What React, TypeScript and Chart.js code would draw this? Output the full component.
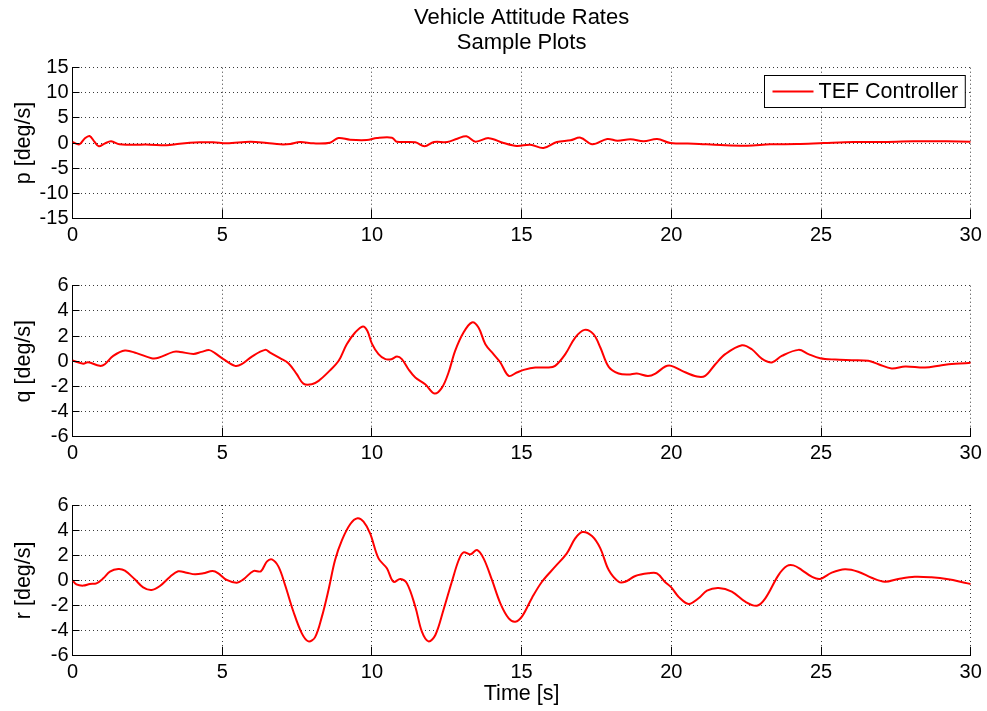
import React, { useEffect, useRef } from "react";
import { Chart, registerables } from "chart.js";

Chart.register(...registerables);

// ---------------- data ----------------
const TITLE_LINES = ["Vehicle Attitude Rates", "Sample Plots"];
const SERIES_LABEL = "TEF Controller";
const X_LABEL = "Time [s]";
const X_TICKS = [0, 5, 10, 15, 20, 25, 30];
const P_TICKS = [-15, -10, -5, 0, 5, 10, 15];
const QR_TICKS = [-6, -4, -2, 0, 2, 4, 6];

const timeP = [0, 0.23, 0.4, 0.57, 0.74, 0.88, 1.07, 1.29, 1.57, 2.02, 2.58, 3.14, 3.58, 4.25, 4.7, 5.16, 5.94, 6.5, 6.94, 7.27, 7.6, 8.05, 8.6, 8.88, 9.27, 9.83, 10.17, 10.67, 10.83, 11.45, 11.76, 12.07, 12.52, 12.85, 13.16, 13.46, 13.9, 14.4, 14.84, 15.29, 15.73, 16.18, 16.63, 16.97, 17.36, 17.86, 18.2, 18.64, 19.08, 19.53, 19.97, 20.75, 21.64, 22.53, 23.31, 24.2, 25.09, 26.09, 26.98, 28.09, 29.2, 30];
const pValues = [0.2, -0.27, 0.86, 1.39, 0.2, -0.66, -0.13, 0.33, -0.27, -0.33, -0.33, -0.46, -0.13, 0.13, 0.13, -0.07, 0.27, 0, -0.27, -0.2, 0.2, -0.07, 0.07, 1.0, 0.66, 0.6, 1.0, 1.06, 0.27, 0.13, -0.66, 0.2, 0.2, 0.86, 1.33, 0.27, 0.97, 0, -0.6, -0.33, -1.0, 0.2, 0.53, 1.06, -0.27, 0.8, 0.46, 0.73, 0.33, 0.8, 0, -0.13, -0.4, -0.53, -0.27, -0.2, 0, 0.2, 0.2, 0.33, 0.33, 0.27];

const timeQ = [0, 0.36, 0.52, 0.91, 1.08, 1.36, 1.75, 2.14, 2.64, 2.87, 3.37, 3.59, 4.04, 4.31, 4.57, 4.76, 5.04, 5.43, 5.65, 5.99, 6.43, 6.6, 6.93, 7.21, 7.49, 7.71, 7.99, 8.22, 8.55, 8.89, 9.16, 9.44, 9.7, 9.85, 10.0, 10.22, 10.45, 10.65, 10.84, 11.0, 11.22, 11.45, 11.78, 12.09, 12.34, 12.56, 12.78, 13.06, 13.34, 13.56, 13.79, 14.06, 14.29, 14.57, 14.84, 15.07, 15.46, 15.85, 16.12, 16.46, 16.79, 17.1, 17.4, 17.63, 17.91, 18.24, 18.57, 18.85, 19.22, 19.47, 19.8, 20.0, 20.36, 20.86, 21.13, 21.47, 21.8, 22.36, 22.69, 23.02, 23.36, 23.69, 24.25, 24.58, 24.97, 25.47, 26.03, 26.58, 26.92, 27.36, 27.81, 28.47, 29.03, 29.48, 30];
const qValues = [0.05, -0.2, -0.08, -0.37, -0.24, 0.42, 0.85, 0.64, 0.24, 0.27, 0.74, 0.74, 0.58, 0.74, 0.88, 0.64, 0.16, -0.37, -0.24, 0.37, 0.9, 0.69, 0.24, -0.16, -1.03, -1.78, -1.83, -1.56, -0.85, 0.03, 1.35, 2.28, 2.76, 2.4, 1.4, 0.56, 0.16, 0.16, 0.37, 0.16, -0.64, -1.3, -1.83, -2.57, -2.1, -0.9, 0.82, 2.28, 3.08, 2.68, 1.35, 0.56, -0.1, -1.17, -0.9, -0.69, -0.5, -0.5, -0.37, 0.56, 1.88, 2.49, 2.15, 1.09, -0.45, -0.98, -1.06, -0.98, -1.17, -0.98, -0.42, -0.37, -0.77, -1.22, -1.17, -0.24, 0.56, 1.27, 0.95, 0.21, -0.1, 0.42, 0.9, 0.56, 0.24, 0.13, 0.08, 0.03, -0.24, -0.58, -0.42, -0.5, -0.32, -0.21, -0.13];

const timeR = [0, 0.13, 0.36, 0.58, 0.8, 1.03, 1.25, 1.53, 1.75, 2.08, 2.36, 2.64, 2.92, 3.26, 3.53, 3.81, 4.09, 4.37, 4.68, 4.87, 5.15, 5.49, 5.71, 6.04, 6.29, 6.49, 6.66, 6.88, 7.1, 7.38, 7.66, 7.88, 8.1, 8.33, 8.55, 8.77, 9.0, 9.28, 9.52, 9.72, 9.94, 10.22, 10.5, 10.72, 10.95, 11.17, 11.45, 11.67, 11.89, 12.12, 12.39, 12.67, 12.9, 13.06, 13.29, 13.51, 13.73, 14.01, 14.29, 14.57, 14.79, 15.01, 15.35, 15.68, 16.12, 16.51, 16.79, 17.03, 17.35, 17.63, 17.91, 18.24, 18.46, 18.8, 19.24, 19.52, 19.8, 20.0, 20.24, 20.58, 20.91, 21.19, 21.58, 22.02, 22.47, 22.86, 23.14, 23.58, 23.86, 24.08, 24.36, 24.69, 24.97, 25.36, 25.8, 26.24, 26.69, 27.13, 27.58, 28.13, 28.69, 29.25, 29.8, 30];
const rValues = [0, -0.32, -0.42, -0.29, -0.24, 0.16, 0.69, 0.9, 0.77, 0.08, -0.56, -0.77, -0.45, 0.29, 0.72, 0.61, 0.48, 0.56, 0.74, 0.56, 0.03, -0.19, 0.08, 0.74, 0.72, 1.49, 1.67, 1.09, -0.37, -2.5, -4.22, -4.86, -4.54, -2.89, -0.77, 1.62, 3.21, 4.49, 4.94, 4.67, 3.74, 1.75, 0.96, -0.11, 0.11, -0.24, -2.1, -4.09, -4.86, -4.35, -2.36, -0.11, 1.62, 2.23, 2.07, 2.42, 1.75, 0.03, -1.83, -3.03, -3.29, -2.89, -1.38, -0.11, 1.09, 2.15, 3.34, 3.85, 3.53, 2.55, 0.82, -0.11, -0.11, 0.35, 0.56, 0.56, -0.15, -0.56, -1.3, -1.88, -1.43, -0.82, -0.61, -0.9, -1.7, -2.02, -1.43, 0.42, 1.14, 1.19, 0.82, 0.29, 0.11, 0.61, 0.88, 0.69, 0.21, -0.11, 0.11, 0.29, 0.24, 0.08, -0.19, -0.29];

// ---------------- styling / layout ----------------
const FONT = "'Liberation Sans', Arial, Helvetica, sans-serif";
const CANVAS_W = 987;
const AXIS_W = 72.5;
const RIGHT_PAD = 16.3;
const LINE_COLOR = "#ff0000";
const GRID_COLOR = "#3a3a3a";

const inwardTicks = {
  id: "inwardTicks",
  afterDraw(chart: any) {
    const { ctx, chartArea, scales } = chart;
    const align = (v: number) => Math.round(v - 0.5) + 0.5;
    ctx.save();
    ctx.strokeStyle = "#000";
    ctx.lineWidth = 1;
    ctx.beginPath();
    scales.x.ticks.forEach((_t: any, i: number) => {
      const px = align(scales.x.getPixelForTick(i));
      ctx.moveTo(px, chartArea.bottom);
      ctx.lineTo(px, chartArea.bottom - 9);
    });
    scales.y.ticks.forEach((_t: any, i: number) => {
      const py = align(scales.y.getPixelForTick(i));
      ctx.moveTo(chartArea.left, py);
      ctx.lineTo(chartArea.left + 7, py);
    });
    ctx.stroke();
    ctx.restore();
  },
};

const legendBox = {
  id: "legendBox",
  afterDraw(chart: any, _args: any, opts: any) {
    if (!opts || !opts.show) return;
    const ds = chart.data.datasets[0];
    const { ctx, chartArea } = chart;
    ctx.save();
    ctx.font = `21.5px ${FONT}`;
    const tw = ctx.measureText(ds.label).width;
    const padL = 8, lineLen = 41, gap = 5, padR = 7, h = 32;
    const w = padL + lineLen + gap + tw + padR;
    const x0 = Math.round(chartArea.right - 6 - w) + 0.5;
    const y0 = Math.round(chartArea.top + 7) + 0.5;
    ctx.fillStyle = "#fff";
    ctx.fillRect(x0, y0, w, h);
    ctx.strokeStyle = "#000";
    ctx.lineWidth = 1;
    ctx.strokeRect(x0, y0, w, h);
    ctx.strokeStyle = ds.borderColor;
    ctx.lineWidth = 2;
    ctx.beginPath();
    ctx.moveTo(x0 + padL, y0 + h / 2);
    ctx.lineTo(x0 + padL + lineLen, y0 + h / 2);
    ctx.stroke();
    ctx.fillStyle = "#000";
    ctx.textAlign = "left";
    ctx.textBaseline = "middle";
    ctx.fillText(ds.label, x0 + padL + lineLen + gap, y0 + h / 2 + 1);
    ctx.restore();
  },
};

type PanelCfg = {
  times: number[];
  values: number[];
  yTicks: number[];
  yLabel: string;
  top: number;
  height: number;
  areaTop: number;
  areaBottom: number;
  title?: boolean;
  legend?: boolean;
  xTitle?: boolean;
};

function Panel({ cfg }: { cfg: PanelCfg }) {
  const ref = useRef<HTMLCanvasElement | null>(null);
  useEffect(() => {
    const canvas = ref.current;
    if (!canvas) return;
    const yMin = cfg.yTicks[0];
    const yMax = cfg.yTicks[cfg.yTicks.length - 1];
    const yStep = cfg.yTicks[1] - cfg.yTicks[0];
    const chart = new Chart(canvas, {
      type: "line",
      data: {
        datasets: [
          {
            label: SERIES_LABEL,
            data: cfg.times.map((t, i) => ({ x: t, y: cfg.values[i] })),
            borderColor: LINE_COLOR,
            borderWidth: 2,
            pointRadius: 0,
            fill: false,
            tension: 0.35,
            capBezierPoints: true,
          },
        ],
      },
      options: {
        responsive: false,
        animation: false,
        events: [],
        layout: {
          padding: { top: cfg.title ? 0 : cfg.areaTop, left: 0, right: RIGHT_PAD, bottom: 0 },
        },
        plugins: {
          legend: { display: false },
          tooltip: { enabled: false },
          title: cfg.title
            ? {
                display: true,
                text: TITLE_LINES,
                fullSize: false,
                color: "#000",
                font: { family: FONT, size: 22, weight: "normal", lineHeight: 1.14 },
                padding: { top: 5.5, bottom: cfg.areaTop - 5.5 - 2 * 22 * 1.14 },
              }
            : { display: false },
          legendBox: { show: !!cfg.legend },
        } as any,
        scales: {
          x: {
            type: "linear",
            min: X_TICKS[0],
            max: X_TICKS[X_TICKS.length - 1],
            ticks: {
              stepSize: X_TICKS[1] - X_TICKS[0],
              color: "#000",
              font: { family: FONT, size: 20 },
              padding: 5,
              maxRotation: 0,
              autoSkip: false,
            },
            grid: { color: GRID_COLOR, lineWidth: 1, drawTicks: false },
            border: { display: true, color: "#000", width: 1, dash: [1, 3] },
            title: cfg.xTitle
              ? {
                  display: true,
                  text: X_LABEL,
                  color: "#000",
                  font: { family: FONT, size: 21.5 },
                  padding: { top: 0, bottom: 4.4 },
                }
              : { display: false },
            afterFit: (s: any) => {
              s.height = cfg.height - cfg.areaBottom;
            },
          },
          y: {
            type: "linear",
            min: yMin,
            max: yMax,
            ticks: {
              stepSize: yStep,
              color: "#000",
              font: { family: FONT, size: 20 },
              padding: 4,
              autoSkip: false,
            },
            grid: { color: GRID_COLOR, lineWidth: 1, drawTicks: false },
            border: { display: true, color: "#000", width: 1, dash: [1, 3] },
            title: {
              display: true,
              text: cfg.yLabel,
              color: "#000",
              font: { family: FONT, size: 21.5 },
              padding: { top: 11, bottom: 0 },
            },
            afterFit: (s: any) => {
              s.width = AXIS_W;
            },
          },
        },
      } as any,
      plugins: [inwardTicks, legendBox],
    });
    return () => chart.destroy();
  }, []);
  return (
    <canvas
      ref={ref}
      width={CANVAS_W}
      height={cfg.height}
      style={{ position: "absolute", left: 0, top: cfg.top, display: "block" }}
    />
  );
}

const PANELS: PanelCfg[] = [
  { times: timeP, values: pValues, yTicks: P_TICKS, yLabel: "p [deg/s]", top: 0, height: 250, areaTop: 67.7, areaBottom: 218.3, title: true, legend: true },
  { times: timeQ, values: qValues, yTicks: QR_TICKS, yLabel: "q [deg/s]", top: 250, height: 220, areaTop: 35.7, areaBottom: 186.7 },
  { times: timeR, values: rValues, yTicks: QR_TICKS, yLabel: "r [deg/s]", top: 470, height: 241, areaTop: 35, areaBottom: 185.7, xTitle: true },
];

export default function App() {
  return (
    <div
      style={{
        position: "fixed",
        left: 0,
        top: 0,
        width: CANVAS_W,
        height: 711,
        background: "#fff",
        overflow: "hidden",
      }}
    >
      {PANELS.map((p, i) => (
        <Panel key={i} cfg={p} />
      ))}
    </div>
  );
}
